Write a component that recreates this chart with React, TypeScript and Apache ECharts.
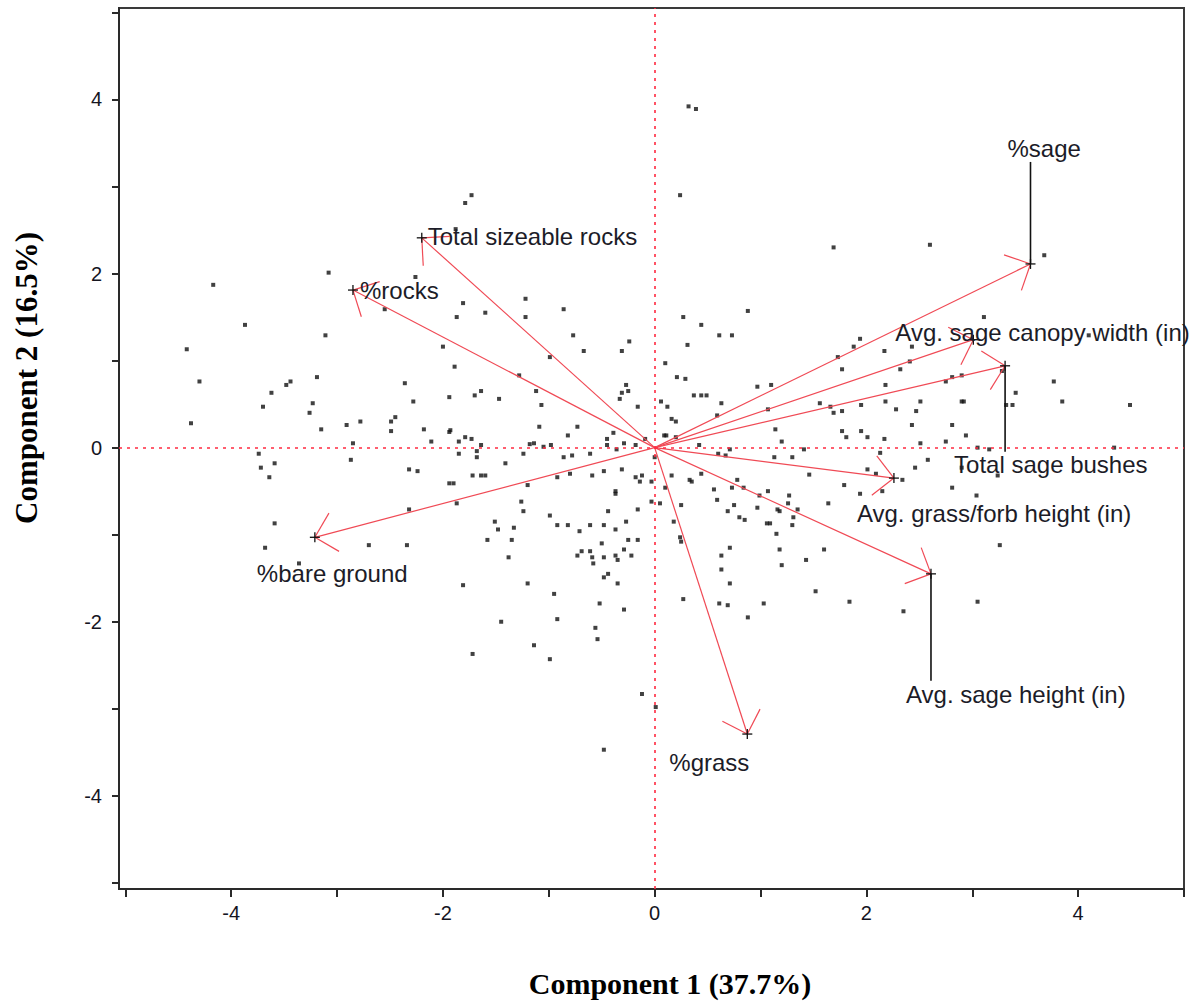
import { useEffect, useRef } from 'react';
import * as echarts from 'echarts';

// ---- axis ticks ----
const xTickValues = [-5, -4, -3, -2, -1, 0, 1, 2, 3, 4, 5];
const xLabelValues = [-4, -2, 0, 2, 4];
const yTickValues = [-5, -4, -3, -2, -1, 0, 1, 2, 3, 4, 5];
const yLabelValues = [-4, -2, 0, 2, 4];

const xTitle = 'Component 1 (37.7%)';
const yTitle = 'Component 2 (16.5%)';

// ---- variable loadings (biplot rays) ----
const variableNames = [
  '%sage',
  'Avg. sage canopy width (in)',
  'Total sage bushes',
  'Avg. grass/forb height (in)',
  'Avg. sage height (in)',
  '%grass',
  '%bare ground',
  '%rocks',
  'Total sizeable rocks',
];
const loadingX = [3.55, 3.01, 3.31, 2.26, 2.61, 0.875, -3.21, -2.85, -2.2];
const loadingY = [2.11, 1.24, 0.94, -0.35, -1.45, -3.29, -1.03, 1.81, 2.41];

// ---- observation scores ----
const scores: number[][] = [
  [-1.73, 2.9], [-1.79, 2.81], [-1.88, 2.51], [-3.08, 2.01], [-4.17, 1.87], [-2.26, 1.96], [-3.87, 1.41],
  [-2.55, 1.59], [-3.11, 1.29], [-4.42, 1.13], [-4.3, 0.76], [-1.81, 1.66], [-1.87, 1.5], [-1.6, 1.55],
  [-1.22, 1.71], [-1.22, 1.5], [-0.86, 1.59], [-0.77, 1.29], [-0.67, 1.11], [-0.31, 1.11], [-0.24, 1.22],
  [-2.0, 1.16], [-1.89, 0.93], [-1.28, 0.83], [-0.99, 1.04], [-1.12, 0.65], [-1.07, 0.49], [-2.36, 0.74],
  [-2.28, 0.53], [-1.94, 0.58], [-1.7, 0.6], [-1.64, 0.65], [-1.47, 0.56], [-3.19, 0.81], [-3.44, 0.76],
  [-3.48, 0.72], [-3.62, 0.63], [-3.7, 0.47], [-3.23, 0.51], [-3.26, 0.4], [-4.38, 0.28], [-3.15, 0.21],
  [-2.91, 0.26], [-2.78, 0.3], [-2.85, 0.05], [-2.49, 0.3], [-2.45, 0.35], [-2.49, 0.19], [-2.18, 0.21],
  [-1.94, 0.18], [-1.93, 0.2], [-2.11, 0.07], [-1.85, 0.07], [-1.79, 0.12], [-1.73, 0.1], [-1.64, 0.03],
  [-1.18, 0.04], [-1.14, 0.05], [-1.05, 0.01], [-0.98, 0.03], [-1.09, 0.24], [-0.82, 0.14], [-0.73, 0.24],
  [-0.39, 0.17], [-0.45, 0.1], [-0.45, 0.03], [-0.29, 0.05], [-0.18, 0.03], [-0.09, 0.1], [-0.33, 0.56],
  [-0.31, 0.63], [-0.27, 0.72], [-0.25, 0.65], [-0.16, 0.47],
  [0.32, 3.92], [0.39, 3.89], [0.24, 2.9], [1.69, 2.3], [2.6, 2.33], [3.68, 2.21], [0.88, 1.57], [3.11, 1.5],
  [0.27, 1.5], [0.44, 1.41], [0.61, 1.29], [0.73, 1.29], [0.31, 1.18], [1.94, 1.25], [1.88, 1.16], [1.73, 1.04],
  [1.77, 0.9], [2.17, 1.11], [2.43, 1.16], [2.41, 0.99], [2.32, 0.9], [4.1, 1.29], [0.1, 0.97], [0.21, 0.81],
  [0.29, 0.79], [0.37, 0.6], [0.44, 0.6], [0.49, 0.6], [0.06, 0.53], [0.12, 0.47], [0.63, 0.51], [0.59, 0.37],
  [0.16, 0.33], [0.2, 0.3], [0.09, 0.14], [0.11, 0.14], [0.2, 0.12], [0.42, 0.03], [0.97, 0.7], [1.1, 0.72],
  [1.07, 0.44], [1.14, 0.21], [1.2, 0.07], [0.71, -0.02], [1.56, 0.51], [1.66, 0.47], [1.69, 0.4], [1.77, 0.42],
  [1.95, 0.49], [1.77, 0.19], [1.81, 0.12], [1.95, 0.19], [2.01, 0.12], [2.17, 0.1], [2.18, 0.72], [2.18, 0.53],
  [2.28, 0.44], [2.51, 0.53], [2.47, 0.42], [2.43, 0.26], [2.51, 0.05], [2.75, 0.07], [2.81, 0.26], [2.94, 0.14],
  [2.75, 0.76], [2.81, 0.81], [2.9, 0.83], [2.9, 0.53], [2.92, 0.53], [3.28, 0.88], [3.41, 0.63], [3.32, 0.49],
  [3.38, 0.49], [3.77, 0.76], [3.85, 0.53], [4.49, 0.49], [3.05, 0.0], [3.16, -0.02], [4.34, 0.0],
  [0.67, -0.09], [0.6, -0.07], [1.13, -0.11], [1.3, -0.11], [1.41, -0.02], [1.46, -0.31], [1.79, -0.43],
  [1.94, -0.53], [2.15, -0.5], [2.01, -0.25], [2.09, -0.3], [2.34, -0.37], [2.46, -0.23], [2.58, -0.14],
  [2.81, -0.46], [3.04, -0.55], [2.13, -0.06], [2.9, -0.23], [3.24, -0.32], [3.26, -1.12], [3.05, -1.77],
  [2.35, -1.88], [1.84, -1.77], [1.52, -1.65], [1.6, -1.17], [1.43, -1.29], [1.2, -1.35], [1.18, -1.17],
  [1.03, -1.79], [0.88, -1.95], [0.69, -1.81], [0.61, -1.79], [0.71, -1.56], [0.63, -1.4], [0.63, -1.24],
  [0.71, -1.15], [0.27, -1.74], [0.01, -2.98], [1.15, -0.99], [1.09, -0.87], [1.06, -0.87], [1.3, -0.89],
  [1.31, -0.8], [1.35, -0.71], [1.26, -0.64], [1.27, -0.55], [1.18, -0.73], [1.16, -0.71], [1.07, -0.5],
  [0.99, -0.55], [0.97, -0.69], [0.85, -0.83], [0.8, -0.8], [0.69, -0.73], [0.75, -0.66], [0.59, -0.6],
  [0.56, -0.48], [0.73, -0.46], [0.84, -0.46], [0.78, -0.37], [0.33, -0.37], [0.35, -0.39], [0.44, -0.3],
  [0.16, -0.32], [0.1, -0.46], [-0.03, -0.39], [-0.03, -0.62], [0.05, -0.64], [0.25, -0.66], [0.18, -0.85],
  [0.24, -1.03], [0.25, -1.08], [1.64, -0.64],
  [-3.74, -0.07], [-3.72, -0.23], [-3.59, -0.18], [-3.64, -0.34], [-3.59, -0.87], [-3.68, -1.15],
  [-3.36, -1.33], [-2.87, -0.14], [-2.7, -1.12], [-2.34, -1.12], [-2.32, -0.71], [-2.32, -0.25],
  [-2.24, -0.27], [-1.85, -0.07], [-1.68, -0.04], [-1.68, -0.11], [-1.94, -0.41], [-1.9, -0.41],
  [-1.72, -0.32], [-1.64, -0.32], [-1.6, -0.32], [-1.87, -0.64], [-1.41, -0.18], [-1.24, -0.07],
  [-0.86, -0.11], [-0.78, -0.09], [-0.61, -0.07], [-0.36, -0.02], [-1.2, -0.43], [-0.92, -0.34],
  [-0.8, -0.3], [-0.59, -0.32], [-0.48, -0.27], [-0.31, -0.25], [-0.18, -0.34], [-0.12, -0.32],
  [-0.14, -0.39], [-0.16, -0.71], [-0.37, -0.53], [-0.37, -0.5], [-0.44, -0.73], [-1.26, -0.62],
  [-1.24, -0.73], [-0.99, -0.78], [-1.51, -0.85], [-1.48, -0.94], [-1.33, -0.92], [-1.58, -1.06],
  [-1.35, -1.06], [-1.38, -1.26], [-0.92, -0.89], [-0.82, -0.89], [-0.71, -0.96], [-0.61, -0.89],
  [-0.48, -0.89], [-0.37, -0.94], [-0.27, -0.85], [-0.25, -1.06], [-0.16, -1.06], [-0.5, -1.1],
  [-0.73, -1.24], [-0.69, -1.19], [-0.61, -1.19], [-0.59, -1.26], [-0.58, -1.33], [-0.48, -1.26],
  [-0.37, -1.24], [-0.35, -1.29], [-0.29, -1.17], [-0.22, -1.24], [-0.48, -1.49], [-0.44, -1.45],
  [-0.35, -1.56], [-0.52, -1.79], [-0.29, -1.86], [-0.56, -2.07], [-0.54, -2.2], [-0.95, -1.68],
  [-0.92, -1.97], [-1.2, -1.56], [-1.45, -2.0], [-1.14, -2.27], [-0.99, -2.43], [-1.81, -1.58],
  [-1.72, -2.37], [-0.12, -2.83], [-0.48, -3.47], [0.0, -0.11],
];

// ---- label placement (pixel offsets from the ray tip; leader = vertical black line length) ----
const labelLayout = [
  { dx: -23, dy: -115, leader: -102 },
  { dx: -78, dy: -7, leader: 0 },
  { dx: -51, dy: 99, leader: 86 },
  { dx: -37, dy: 35, leader: 0 },
  { dx: -25, dy: 121, leader: 107 },
  { dx: -78, dy: 28, leader: 0 },
  { dx: -58, dy: 36, leader: 0 },
  { dx: 7, dy: 0, leader: 0 },
  { dx: 6, dy: -1, leader: 0 },
];

const RED = '#f04a55';
const TEXT = '#1c1c28';
const SANS = '"Liberation Sans", Arial, sans-serif';
const SERIF = '"Liberation Serif", "Times New Roman", serif';

export default function App() {
  const ref = useRef<HTMLDivElement>(null);

  useEffect(() => {
    if (!ref.current) return;
    const chart = echarts.init(ref.current, undefined, { renderer: 'svg' });

    const BARB = 28;
    const ANG = Math.PI / 4;

    const option: any = {
      animation: false,
      backgroundColor: '#ffffff',
      grid: {
        left: 119,
        top: 8,
        width: 1065,
        height: 881,
        show: true,
        borderColor: '#3a3a3a',
        borderWidth: 2,
        backgroundColor: 'transparent',
      },
      xAxis: {
        type: 'value',
        min: -5.06,
        max: 5.0,
        axisLine: { show: true, onZero: false, lineStyle: { color: '#2a2a2a', width: 2 } },
        axisTick: { show: true, length: 8, customValues: xTickValues, lineStyle: { color: '#2a2a2a', width: 2 } },
        axisLabel: {
          customValues: xLabelValues,
          margin: 14,
          fontSize: 20,
          fontFamily: SANS,
          color: '#15151f',
        },
        splitLine: { show: false },
      },
      yAxis: {
        type: 'value',
        min: -5.07,
        max: 5.05,
        axisLine: { show: true, onZero: false, lineStyle: { color: '#2a2a2a', width: 2 } },
        axisTick: { show: true, length: 7, customValues: yTickValues, lineStyle: { color: '#2a2a2a', width: 2 } },
        axisLabel: {
          customValues: yLabelValues,
          margin: 17,
          fontSize: 20,
          fontFamily: SANS,
          color: '#15151f',
        },
        splitLine: { show: false },
      },
      graphic: [
        {
          type: 'text',
          x: 670,
          y: 983,
          style: {
            text: xTitle,
            font: `bold 30px ${SERIF}`,
            fill: '#000',
            align: 'center',
            verticalAlign: 'middle',
          },
        },
        {
          type: 'text',
          x: 26,
          y: 378,
          rotation: Math.PI / 2,
          style: {
            text: yTitle,
            font: `bold 31px ${SERIF}`,
            fill: '#000',
            align: 'center',
            verticalAlign: 'middle',
          },
        },
      ],
      series: [
        {
          type: 'scatter',
          data: scores,
          symbol: 'rect',
          symbolSize: 4,
          itemStyle: { color: '#111111' },
          silent: true,
          z: 3,
          markLine: {
            silent: true,
            symbol: ['none', 'none'],
            label: { show: false },
            lineStyle: { color: '#ff2a40', type: [3, 5], width: 1.6 },
            data: [{ xAxis: 0 }, { yAxis: 0 }],
          },
        },
        {
          type: 'custom',
          coordinateSystem: 'cartesian2d',
          silent: true,
          z: 4,
          data: variableNames.map((_, i) => [loadingX[i], loadingY[i], i]),
          renderItem: (_params: any, api: any) => {
            const i = api.value(2);
            const o = api.coord([0, 0]);
            const t = api.coord([api.value(0), api.value(1)]);
            const vx = o[0] - t[0];
            const vy = o[1] - t[1];
            const len = Math.hypot(vx, vy);
            const ux = vx / len;
            const uy = vy / len;
            const rot = (a: number) => [ux * Math.cos(a) - uy * Math.sin(a), ux * Math.sin(a) + uy * Math.cos(a)];
            const b1 = rot(ANG);
            const b2 = rot(-ANG);
            const lay = labelLayout[i];
            const redStyle = { stroke: RED, lineWidth: 1.2 };
            const blk = { stroke: '#111', lineWidth: 1.3 };
            const children: any[] = [
              { type: 'line', shape: { x1: o[0], y1: o[1], x2: t[0], y2: t[1] }, style: redStyle },
              { type: 'line', shape: { x1: t[0], y1: t[1], x2: t[0] + b1[0] * BARB, y2: t[1] + b1[1] * BARB }, style: redStyle },
              { type: 'line', shape: { x1: t[0], y1: t[1], x2: t[0] + b2[0] * BARB, y2: t[1] + b2[1] * BARB }, style: redStyle },
              { type: 'line', shape: { x1: t[0] - 5, y1: t[1], x2: t[0] + 5, y2: t[1] }, style: blk },
              { type: 'line', shape: { x1: t[0], y1: t[1] - 5, x2: t[0], y2: t[1] + 5 }, style: blk },
            ];
            if (lay.leader !== 0) {
              children.push({
                type: 'line',
                shape: { x1: t[0], y1: t[1], x2: t[0], y2: t[1] + lay.leader },
                style: { stroke: '#111', lineWidth: 1.6 },
              });
            }
            children.push({
              type: 'text',
              x: t[0] + lay.dx,
              y: t[1] + lay.dy,
              style: {
                text: variableNames[i],
                font: `24px ${SANS}`,
                fill: TEXT,
                align: 'left',
                verticalAlign: 'middle',
              },
            });
            return { type: 'group', children };
          },
        },
      ],
    };

    chart.setOption(option);
    return () => chart.dispose();
  }, []);

  return (
    <div
      ref={ref}
      style={{ position: 'absolute', left: 0, top: 0, width: 1191, height: 1004, background: '#fff' }}
    />
  );
}
